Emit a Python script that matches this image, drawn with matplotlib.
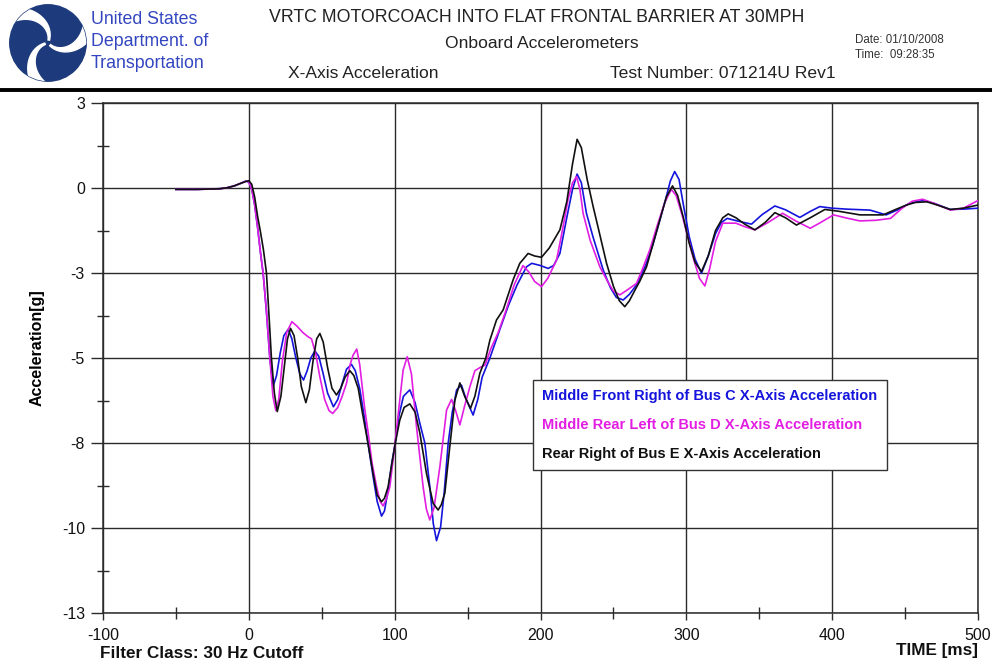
import numpy as np
import matplotlib
matplotlib.use("Agg")
import matplotlib.pyplot as plt
from matplotlib.lines import Line2D
from matplotlib.patches import Circle, Polygon

plt.rcParams['font.family'] = ['Liberation Sans', 'DejaVu Sans']

# ---------------- data: (time [ms], acceleration [g]) ----------------
bus_c_front_right = [
    (-50, 0.29), (-35, 0.29), (-20, 0.31), (-15, 0.34), (-10, 0.40), (-5, 0.49), (-2, 0.55), (0, 0.52),
    (2, 0.30), (4, -0.20), (6, -0.90), (8, -1.70), (9.8, -2.34), (12, -3.50), (14.4, -5.00), (16.7, -5.88),
    (19, -5.55), (21.5, -4.85), (24, -4.30), (27, -4.10), (29.5, -4.40), (32, -4.95), (35, -5.50), (37.5, -5.69),
    (40, -5.40), (42.5, -5.00), (45.3, -4.78), (48, -4.95), (51, -5.50), (54, -6.10), (58, -6.53), (61, -6.30),
    (64, -5.80), (67, -5.35), (70.4, -5.20), (73, -5.40), (76, -5.95), (79, -6.80), (81.8, -7.70), (85.2, -8.72),
    (88, -9.50), (91, -9.96), (93, -9.80), (95.5, -9.14), (98, -8.30), (100, -7.78), (103, -6.80), (106, -6.20),
    (110.4, -6.00), (114, -6.40), (117, -7.00), (120.7, -7.67), (124, -9.00), (126.5, -10.20), (128.7, -10.73),
    (131.5, -10.30), (134, -9.20), (136.7, -7.67), (139.5, -6.70), (142.5, -6.00), (145.8, -5.85), (149, -6.30),
    (153.8, -6.79), (157, -6.30), (160, -5.60), (165.3, -5.00), (172, -4.12), (178, -3.35), (184, -2.70),
    (190.4, -2.14), (194, -2.03), (200, -2.10), (205.2, -2.19), (209, -2.10), (213.3, -1.72), (218, -0.60),
    (222, 0.30), (225.1, 0.77), (228, 0.50), (231.5, -0.46), (236, -1.20), (243, -2.24), (248, -2.80),
    (252, -3.10), (256.7, -3.18), (261, -3.00), (266, -2.70), (272, -2.10), (277, -1.45), (282, -0.65),
    (286.5, 0.10), (289, 0.55), (292, 0.85), (295, 0.60), (298, -0.20), (302, -1.20), (306, -1.90), (310.4, -2.34),
    (315, -1.80), (320, -1.10), (324, -0.75), (328, -0.62), (336.7, -0.72), (344.7, -0.80), (352, -0.50),
    (360.7, -0.23), (368, -0.35), (377.8, -0.59), (385, -0.40), (391.5, -0.25), (400, -0.30), (410, -0.33),
    (426, -0.36), (437, -0.51), (445, -0.35), (453, -0.15), (462, -0.06), (470, -0.15), (481, -0.34),
    (490, -0.33), (500, -0.30),
]

bus_d_rear_left = [
    (-50, 0.29), (-35, 0.29), (-20, 0.31), (-15, 0.34), (-10, 0.40), (-5, 0.49), (-2, 0.55), (0, 0.52),
    (2, 0.30), (4, -0.20), (6, -0.90), (8, -1.70), (9.8, -2.34), (12, -3.50), (14.4, -5.00), (16.5, -6.20),
    (18.5, -6.65), (20.5, -6.30), (23, -5.10), (26, -4.20), (29.5, -3.86), (33, -4.00), (37, -4.20),
    (40.5, -4.33), (43, -4.40), (46, -4.90), (48.7, -5.59), (52, -6.30), (55, -6.65), (57.5, -6.74),
    (61, -6.55), (64, -6.20), (67, -5.79), (69.5, -5.20), (71.5, -4.91), (74, -4.72), (76, -5.20),
    (77.5, -5.80), (79.5, -6.60), (82, -7.40), (84.5, -8.30), (87.6, -9.04), (90, -9.50), (92.1, -9.64),
    (94.5, -9.40), (96.7, -9.04), (100, -7.78), (103.5, -6.32), (105.8, -5.38), (108.6, -4.96), (111.5, -5.50),
    (115, -7.16), (119.5, -9.04), (121.8, -9.75), (124.1, -10.08), (127, -9.70), (131, -8.41), (135.6, -6.63),
    (139, -6.30), (141.8, -6.65), (144.7, -7.10), (148, -6.50), (151.6, -5.90), (155, -5.40), (158.5, -5.30),
    (162, -5.22), (166, -4.70), (171, -4.20), (176, -3.55), (182, -2.70), (188, -2.10), (192, -2.30),
    (196, -2.60), (200.7, -2.76), (205, -2.50), (211, -1.93), (215, -1.00), (219, 0.00), (222, 0.50),
    (224.7, 0.69), (227, 0.30), (229.2, -0.46), (234, -1.30), (240.7, -2.14), (246, -2.60), (250, -2.90),
    (254.4, -3.02), (260, -2.85), (265.8, -2.66), (270, -2.20), (275, -1.60), (280, -0.85), (285, -0.15),
    (289.6, 0.29), (293, 0.10), (297, -0.50), (301, -1.20), (305, -1.90), (309, -2.50), (312.7, -2.74),
    (316, -2.20), (320, -1.35), (325, -0.77), (334, -0.77), (340, -0.88), (347, -0.98), (356, -0.75),
    (366, -0.46), (375, -0.70), (385, -0.93), (392, -0.75), (401, -0.51), (409, -0.60), (419, -0.70),
    (430, -0.68), (440, -0.62), (448, -0.30), (455, -0.08), (462, -0.02), (470, -0.15), (481, -0.36),
    (490, -0.30), (500, -0.06),
]

bus_e_rear_right = [
    (-50, 0.29), (-35, 0.29), (-20, 0.31), (-15, 0.34), (-10, 0.40), (-5, 0.49), (-2, 0.54), (0, 0.56),
    (2, 0.45), (4, 0.05), (6, -0.55), (8, -1.05), (10, -1.60), (12.1, -2.34), (14, -3.80), (15.5, -5.00),
    (17.5, -6.10), (19.5, -6.68), (22, -6.20), (24.5, -5.20), (26.5, -4.40), (28.6, -4.07), (31, -4.30),
    (33.5, -5.00), (36, -5.90), (39.1, -6.40), (41.5, -6.00), (44, -5.10), (46.5, -4.40), (48.7, -4.23),
    (51, -4.50), (54, -5.30), (57, -5.95), (60.1, -6.16), (63, -5.95), (66, -5.60), (69.3, -5.40),
    (72, -5.55), (75, -5.95), (78, -6.75), (81.8, -7.70), (85.2, -8.62), (88, -9.30), (91, -9.51),
    (93, -9.40), (95.5, -9.04), (100, -7.78), (103.5, -6.95), (106.5, -6.55), (110.4, -6.44), (114, -6.70),
    (117.3, -7.36), (121.8, -8.62), (126.4, -9.56), (129.8, -9.77), (132, -9.60), (134.4, -9.24),
    (137.8, -7.78), (141.3, -6.32), (144.7, -5.78), (148, -6.20), (152, -6.58), (155, -6.20), (158.4, -5.48),
    (162.5, -5.00), (165.3, -4.44), (169.8, -3.81), (174.4, -3.49), (181.2, -2.55), (185.8, -2.03),
    (191.5, -1.72), (196, -1.80), (200.7, -1.84), (206, -1.55), (213.3, -0.98), (218, -0.10), (222, 1.10),
    (225.1, 1.86), (228, 1.60), (232, 0.60), (236.1, -0.25), (240, -1.00), (245.3, -2.03), (250, -2.75),
    (254, -3.20), (257.8, -3.39), (261, -3.20), (265, -2.85), (268, -2.60), (272.7, -2.14), (277, -1.45),
    (281.8, -0.67), (286.4, 0.06), (290.5, 0.40), (294, 0.10), (298, -0.60), (302, -1.40), (306, -2.00),
    (310.4, -2.29), (315, -1.80), (320, -1.00), (325, -0.60), (328.7, -0.48), (334, -0.60), (340, -0.80),
    (347, -0.98), (354, -0.75), (360.7, -0.44), (368, -0.60), (375.5, -0.83), (385, -0.60), (395, -0.34),
    (405, -0.40), (419, -0.51), (435, -0.51), (443, -0.35), (451, -0.20), (457, -0.12), (465, -0.10),
    (472, -0.20), (481, -0.34), (490, -0.30), (500, -0.20),
]

series_labels = [
    "Middle Front Right of Bus C X-Axis Acceleration",
    "Middle Rear Left of Bus D X-Axis Acceleration",
    "Rear Right of Bus E X-Axis Acceleration",
]
series_colors = ["#1414dc", "#e21ee2", "#111111"]

x_ticks = [-100, 0, 100, 200, 300, 400, 500]
y_tick_labels = ["3", "0", "-3", "-5", "-8", "-10", "-13"]

# ---------------- figure ----------------
W, H = 992, 662
fig = plt.figure(figsize=(W / 100, H / 100), dpi=100)
fig.patch.set_facecolor("white")


def fx(px):
    return px / W


def fy(py):
    return 1 - py / H


ax = fig.add_axes([fx(103), fy(613), (978 - 103) / W, (613 - 103) / H])
ax.set_xlim(-100, 500)
ax.set_ylim(-13, 3)

for data, color, label in zip([bus_c_front_right, bus_d_rear_left, bus_e_rear_right],
                              series_colors, series_labels):
    arr = np.array(data)
    ax.plot(arr[:, 0], arr[:, 1], color=color, lw=1.2, label=label, zorder=3)

# grid and ticks
y_major = np.linspace(3, -13, len(y_tick_labels))
y_minor = (y_major[:-1] + y_major[1:]) / 2
ax.set_xticks(x_ticks)
ax.set_xticklabels([str(v) for v in x_ticks])
ax.set_xticks([v + 50 for v in x_ticks[:-1]], minor=True)
ax.set_yticks(y_major)
ax.set_yticklabels(y_tick_labels)
ax.set_yticks(y_minor, minor=True)
ax.grid(True, which="major", color="#2a2a2a", lw=1.0, zorder=1)
ax.tick_params(axis="both", which="major", direction="out", length=5, width=1.0,
               color="#2a2a2a", labelsize=11.5, labelcolor="#111111")
ax.tick_params(axis="x", which="major", pad=6)
ax.tick_params(axis="y", which="major", length=9, pad=4)
ax.tick_params(axis="both", which="minor", direction="inout", length=9, width=1.0, color="#2a2a2a")
for sp in ax.spines.values():
    sp.set_color("#2a2a2a")
    sp.set_linewidth(1.1)

ax.set_ylabel("Acceleration[g]", fontsize=11.5, fontweight="bold")
ax.yaxis.set_label_coords((45 - 103) / 875, (613 - 348) / 510)

# legend box
leg = ax.legend(loc="upper left", bbox_to_anchor=((533 - 103) / 875, (613 - 380) / 510),
                borderaxespad=0, handlelength=0, handletextpad=0, fancybox=False,
                framealpha=1, edgecolor="#333333", labelspacing=1.0,
                borderpad=0.65, prop={"weight": "bold", "size": 10.5})
leg.get_frame().set_linewidth(1.0)
for h in leg.legend_handles:
    h.set_visible(False)
for txt, c in zip(leg.get_texts(), series_colors):
    txt.set_color(c)
leg.set_zorder(5)

# footer texts
fig.text(fx(100), fy(653), "Filter Class: 30 Hz Cutoff", fontsize=12.3, fontweight="bold",
         ha="left", va="center", color="#111111")
fig.text(fx(978), fy(651), "TIME [ms]", fontsize=12.3, fontweight="bold",
         ha="right", va="center", color="#111111")

# header
fig.add_artist(Line2D([0, 1], [fy(89.5), fy(89.5)], transform=fig.transFigure,
                      color="black", lw=2.8))
fig.text(fx(537), fy(18), "VRTC MOTORCOACH INTO FLAT FRONTAL BARRIER AT 30MPH",
         fontsize=12.8, ha="center", va="center", color="#222222")
fig.text(fx(542), fy(44), "Onboard Accelerometers", fontsize=12.6, ha="center", va="center",
         color="#222222")
fig.text(fx(288), fy(74), "X-Axis Acceleration", fontsize=12.6, ha="left", va="center",
         color="#222222")
fig.text(fx(610), fy(74), "Test Number: 071214U Rev1", fontsize=12.6, ha="left", va="center",
         color="#222222")
fig.text(fx(855), fy(40), "Date: 01/10/2008", fontsize=8.3, ha="left", va="center", color="#333333")
fig.text(fx(855), fy(55), "Time:  09:28:35", fontsize=8.3, ha="left", va="center", color="#333333")

# agency block
for i, line in enumerate(["United States", "Department. of", "Transportation"]):
    fig.text(fx(91), fy(20 + i * 21.5), line, fontsize=12.8, ha="left", va="center",
             color="#3346c0")

logo = fig.add_axes([fx(9), fy(82), 78 / W, 78 / H])
logo.set_xlim(-1.02, 1.02)
logo.set_ylim(-1.02, 1.02)
logo.set_aspect("equal")
logo.axis("off")
disc = Circle((0, 0), 1.0, color="#1d3b7c")
logo.add_patch(disc)
s = np.linspace(0, 1.15, 80)
for k in range(3):
    th = np.deg2rad(75 + 120 * k) + 1.0 * s
    r = 0.08 + 0.95 * s
    w = 0.02 + 0.13 * s ** 1.3
    cx, cy = r * np.cos(th), r * np.sin(th)
    dx, dy = np.gradient(cx), np.gradient(cy)
    n = np.hypot(dx, dy)
    nx, ny = -dy / n, dx / n
    pts = np.vstack([np.column_stack([cx + nx * w, cy + ny * w]),
                     np.column_stack([cx - nx * w, cy - ny * w])[::-1]])
    band = Polygon(pts, closed=True, color="white")
    band.set_clip_path(disc)
    logo.add_patch(band)

fig.savefig("out.png", dpi=100, facecolor="white")
